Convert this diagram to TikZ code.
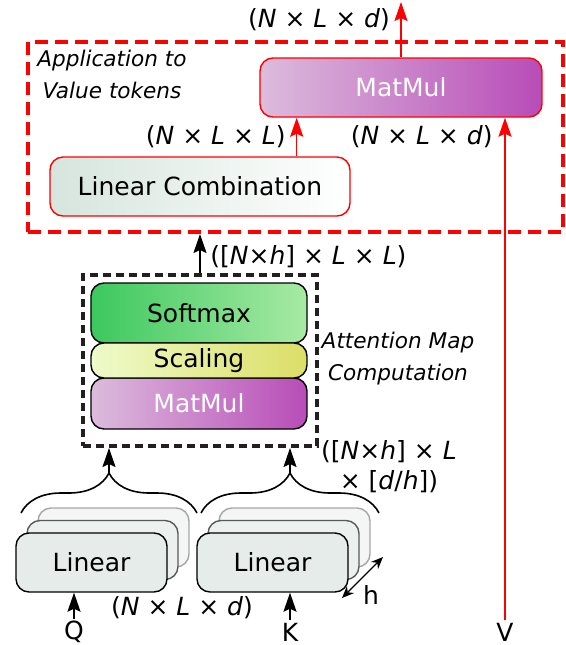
\documentclass[tikz,border=0pt]{standalone}
\usepackage{fontspec}
\setmainfont{DejaVu Sans}
\usetikzlibrary{arrows.meta,decorations.pathreplacing}

\definecolor{mmlight}{HTML}{DCBCDC}
\definecolor{mmdark}{HTML}{B84CB8}
\definecolor{smdark}{HTML}{3CC85E}
\definecolor{smlight}{HTML}{A8EAA4}
\definecolor{sclight}{HTML}{EEFBCB}
\definecolor{scdark}{HTML}{DCDE66}
\definecolor{lingray}{HTML}{E6ECEA}
\definecolor{lcgray}{HTML}{D6E5DD}
\definecolor{dashblk}{HTML}{231F20}

\tikzset{
  blk/.style={draw, rounded corners=6.5pt, line width=0.7pt, inner sep=0pt,
    font=\fontsize{12.5}{15}\selectfont},
  lin/.style={blk, fill=lingray, minimum width=75.5pt, minimum height=29.5pt},
  dim/.style={font=\fontsize{12.5}{15}\selectfont, inner sep=1pt},
  note/.style={font=\fontsize{10.8}{16}\selectfont\itshape, align=center, inner sep=0pt},
  conn/.style={line width=0.8pt, ->},
  smalltip/.style={line width=0.6pt, {Stealth[length=6pt,width=5pt]}-{Stealth[length=6pt,width=5pt]}},
}

\begin{document}
\begin{tikzpicture}[x=0.5pt, y=-0.5pt, >={Stealth[length=9.5pt,width=6.5pt,inset=1.5pt]}]
  \useasboundingbox (0,0) rectangle (566,645);

  % application to value tokens
  \node[draw=red, line width=2pt, dash pattern=on 6.5pt off 3.5pt,
        minimum width=267.5pt, minimum height=95pt] (app) at (295.5,137) {};
  \node[note] (appnote) at (112,74) {Application to\\Value tokens};
  \node[blk, draw=red, left color=mmlight, right color=mmdark, text=white,
        minimum width=141pt, minimum height=29.5pt] (mm2) at (401,87.5) {MatMul};
  \node[blk, draw=red, left color=lcgray, right color=white,
        minimum width=150pt, minimum height=29.5pt] (lc) at (200,186.5) {Linear Combination};

  % attention map
  \node[blk, left color=smdark, right color=smlight,
        minimum width=108pt, minimum height=30pt] (soft) at (199,313) {Softmax};
  \node[blk, left color=mmlight, right color=mmdark, text=white,
        minimum width=108pt, minimum height=25.5pt] (mm1) at (199,403.5) {MatMul};
  \node[blk, left color=sclight, right color=scdark,
        minimum width=108pt, minimum height=17.5pt] (scal) at (199,360.5) {Scaling};
  \node[draw=dashblk, line width=2pt, dash pattern=on 4pt off 2.5pt,
        minimum width=117pt, minimum height=85.5pt] (att) at (200,360.5) {};
  \node[note] (attnote) at (398,359) {Attention Map\\Computation};

  % Q and K projections, h heads each
  \foreach \inp/\cx in {q/91.5,k/272.5} {
    \node[lin, draw=black!35, fill=lingray!45] (\inp3) at (\cx+22,537.5) {};
    \node[lin, draw=black!65, fill=lingray!75] (\inp2) at (\cx+11,550) {};
    \node[lin] (\inp1) at (\cx,562.5) {Linear};
  }
  \foreach \inp/\lab/\cx in {q/Q/74,k/K/290} {
    \node[dim] (in\inp) at (\cx,632) {\lab};
    \draw[conn] (in\inp) -- (in\inp |- \inp1.south);
  }
  \foreach \inp/\xa/\xb in {q/21/197,k/201/379} {
    \draw[line width=0.8pt, decorate, decoration={brace,amplitude=20pt}] (\xa,513) -- (\xb,513);
    \coordinate (tip\inp) at ({(\xa+\xb)/2},473);
    \draw[conn] (tip\inp) -- (tip\inp |- att.south);
  }
  \coordinate (h1) at (342,598);
  \coordinate (h2) at (383,557);
  \draw[smalltip] (h1) -- (h2);
  \node[dim] (hlab) at (371,595) {h};

  % connectors
  \draw[conn] (att.north) -- (att.north |- app.south);
  \coordinate (lctop) at ([xshift=-27pt]lc.north east);
  \draw[conn, red] (lctop) -- (lctop |- mm2.south);
  \node[dim] (inv) at (505,632) {V};
  \draw[conn, red] (inv) -- (inv |- mm2.south);
  \coordinate (out) at (401,2);
  \draw[conn, red] (mm2) -- (out);

  % dimensions
  \node[dim] (dimout) at (319,20) {(\textit{N} × \textit{L} × \textit{d})};
  \node[dim, anchor=east] (dimlc) at (288,137) {(\textit{N} × \textit{L} × \textit{L})};
  \node[dim, anchor=east] (dimv) at (495,137) {(\textit{N} × \textit{L} × \textit{d})};
  \node[dim, anchor=west] (dimatt) at (208,257) {([\textit{N}×\textit{h}] × \textit{L} × \textit{L})};
  \node[dim, align=center] (dimqk) at (389,467) {([\textit{N}×\textit{h}] × \textit{L}\\ × [\textit{d}/\textit{h}])};
  \node[dim] (dimin) at (182,608) {(\textit{N} × \textit{L} × \textit{d})};
\end{tikzpicture}
\end{document}
